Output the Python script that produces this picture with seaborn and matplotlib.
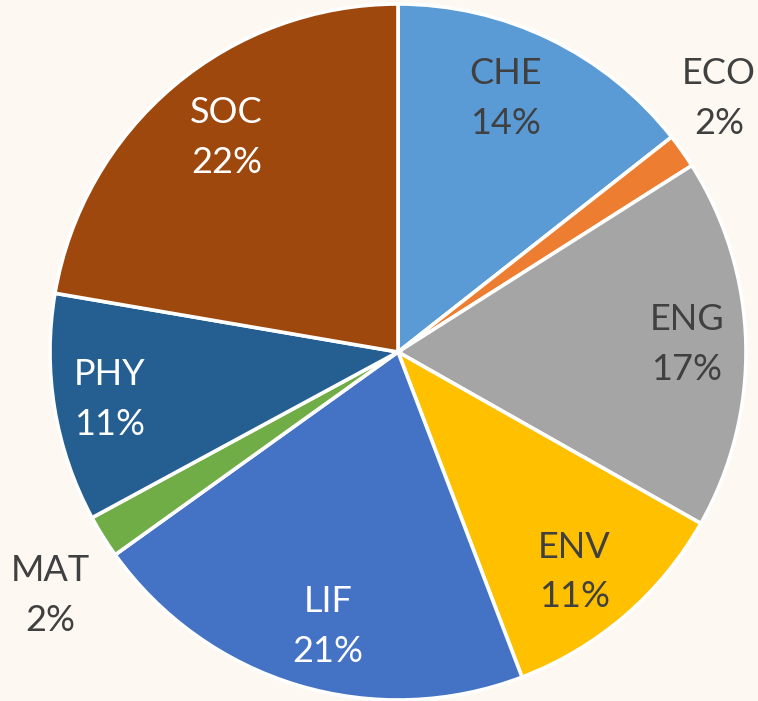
import numpy as np
import matplotlib
matplotlib.use("Agg")
import matplotlib.pyplot as plt
import seaborn as sns

# data (percent of total)
fields = ["CHE", "ECO", "ENG", "ENV", "LIF", "MAT", "PHY", "SOC"]
shares = [14.4, 1.6, 17.2, 11.0, 20.9, 2.0, 10.6, 22.3]
pct_labels = ["14%", "2%", "17%", "11%", "21%", "2%", "11%", "22%"]

# styling
palette = sns.color_palette(["#5B9BD5", "#ED7D31", "#A5A5A5", "#FFC000",
                             "#4472C4", "#70AD47", "#255E91", "#9E480E"])
text_colors = ["#404040", "#404040", "#404040", "#404040",
               "#FFFFFF", "#404040", "#FFFFFF", "#FFFFFF"]
label_dist = [0.79, 1.175, 0.83, 0.81, 0.815, 1.22, 0.84, 0.79]
label_turn = [3.0, 3.0, 0.0, -2.0, 2.4, 3.0, 0.0, -1.5]  # degrees
bg = "#FEF8F3"

sns.set_style("white")
plt.rcParams["font.family"] = ["Lato", "DejaVu Sans"]

W, H = 758, 701
fig = plt.figure(figsize=(W / 100, H / 100), dpi=100, facecolor=bg)
cx, cy, r = 398, 349, 348  # pixel centre (from bottom) and radius
ax = fig.add_axes([(cx - r) / W, (cy - r) / H, 2 * r / W, 2 * r / H])
ax.set_facecolor(bg)

wedges, _ = ax.pie(shares, colors=palette, startangle=90, counterclock=False,
                   wedgeprops=dict(edgecolor="white", linewidth=2.6))
ax.set_xlim(-1, 1)
ax.set_ylim(-1, 1)
ax.set_aspect("auto")
ax.axis("off")

for w, name, pct, col, d, t in zip(wedges, fields, pct_labels, text_colors,
                                   label_dist, label_turn):
    mid = np.deg2rad((w.theta1 + w.theta2) / 2 + t)
    x, y = d * np.cos(mid), d * np.sin(mid)
    ax.text(x, y, f"{name}\n{pct}", ha="center", va="center", color=col,
            fontsize=26, linespacing=1.62, clip_on=False)

fig.savefig("out.png", dpi=100, facecolor=bg)
